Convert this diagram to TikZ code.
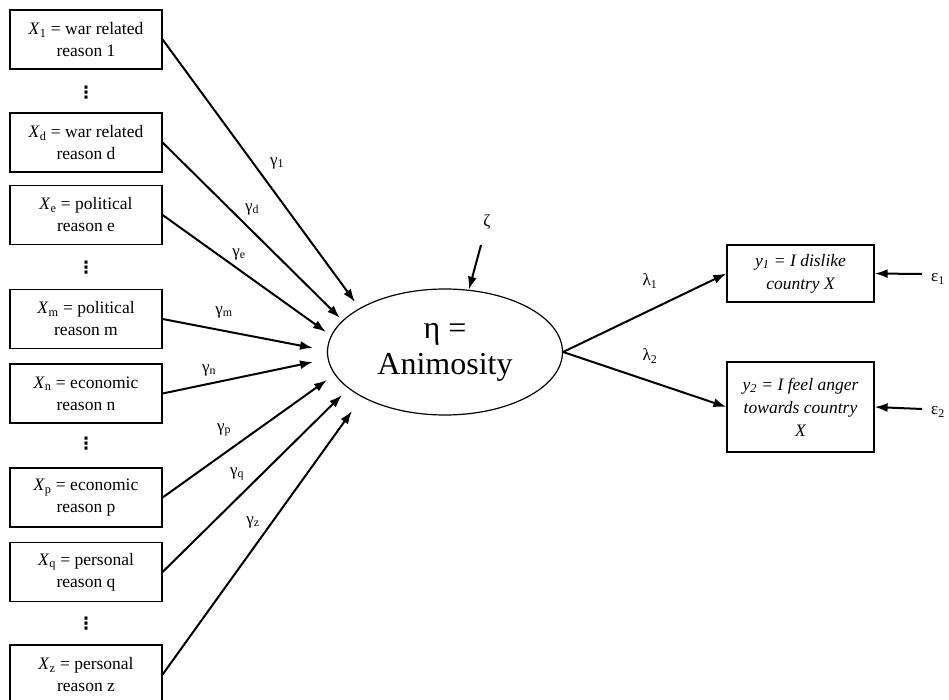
\documentclass[tikz,border=0pt]{standalone}
\usepackage{fontspec}
\setmainfont{Liberation Serif}
\newfontfamily\dotsfont{DejaVu Sans}
\usetikzlibrary{arrows.meta,shapes.geometric}
\begin{document}
\begin{tikzpicture}[x=1pt,y=-1pt,
  varbox/.style={draw, line width=1.2pt, minimum width=152pt, minimum height=59pt,
    inner sep=0pt, align=center, font=\fontsize{17.5}{22}\selectfont},
  ybox/.style={draw, line width=1.2pt, minimum width=147pt, inner sep=0pt,
    align=center, font=\fontsize{17.5}{23}\selectfont\itshape},
  link/.style={line width=2pt, -{Latex[length=13pt,width=9pt]}},
  coef/.style={font=\fontsize{17}{19}\selectfont, inner sep=0pt},
  skipmark/.style={font=\dotsfont\bfseries\fontsize{17}{17}\selectfont, inner sep=0pt}
]
\useasboundingbox (0,0) rectangle (949,700);

% exogenous reasons
\node[varbox] (x1) at (86,39.5)  {\textit{X}\textsubscript{1} = war related\\reason 1};
\node[skipmark] (s1) at (86,93)  {⋮};
\node[varbox] (xd) at (86,142.5) {\textit{X}\textsubscript{d} = war related\\reason d};
\node[varbox] (xe) at (86,215)   {\textit{X}\textsubscript{e} = political\\reason e};
\node[skipmark] (s2) at (86,268) {⋮};
\node[varbox] (xm) at (86,319)   {\textit{X}\textsubscript{m} = political\\reason m};
\node[varbox] (xn) at (86,393.5) {\textit{X}\textsubscript{n} = economic\\reason n};
\node[skipmark] (s3) at (86,444) {⋮};
\node[varbox] (xp) at (86,497.5) {\textit{X}\textsubscript{p} = economic\\reason p};
\node[varbox] (xq) at (86,572)   {\textit{X}\textsubscript{q} = personal\\reason q};
\node[skipmark] (s4) at (86,624) {⋮};
\node[varbox] (xz) at (86,674.5) {\textit{X}\textsubscript{z} = personal\\reason z};

% latent variable
\node[draw, ellipse, line width=1.2pt, minimum width=235pt, minimum height=126pt,
  inner sep=0pt, align=center, font=\fontsize{32}{36}\selectfont] (eta) at (445,352)
  {η =\\Animosity};

% arrow tips around the ellipse
\coordinate (a1) at (355,302);
\coordinate (ad) at (340,318);
\coordinate (ae) at (326,332);
\coordinate (am) at (313,348);
\coordinate (an) at (313,362);
\coordinate (ap) at (327,380);
\coordinate (aq) at (342,395);
\coordinate (az) at (352,411);

\draw[link] (x1.east) -- (a1);
\draw[link] (xd.east) -- (ad);
\draw[link] (xe.east) -- (ae);
\draw[link] (xm.east) -- (am);
\draw[link] (xn.east) -- (an);
\draw[link] (xp.east) -- (ap);
\draw[link] (xq.east) -- (aq);
\draw[link] (xz.east) -- (az);

\node[coef] (g1) at (277,163) {γ\textsubscript{1}};
\node[coef] (gd) at (252,209) {γ\textsubscript{d}};
\node[coef] (ge) at (239,254) {γ\textsubscript{e}};
\node[coef] (gm) at (224,312) {γ\textsubscript{m}};
\node[coef] (gn) at (209,370) {γ\textsubscript{n}};
\node[coef] (gp) at (224,430) {γ\textsubscript{p}};
\node[coef] (gq) at (237,474) {γ\textsubscript{q}};
\node[coef] (gz) at (253,522) {γ\textsubscript{z}};

% disturbance
\node[coef] (zeta) at (487,222) {ζ};
\coordinate (zs) at (481,245);
\draw[link] (zs) -- (eta.69);

% indicators
\node[ybox, minimum height=57pt] (y1) at (800.5,273.5)
  {\textit{y}\textsubscript{1} = I dislike\\country X};
\node[ybox, minimum height=90pt] (y2) at (800.5,407)
  {\textit{y}\textsubscript{2} = I feel anger\\towards country\\X};

\draw[link] (eta.east) -- (y1.west);
\draw[link] (eta.east) -- (y2.west);
\node[coef] (l1) at (650,281) {λ\textsubscript{1}};
\node[coef] (l2) at (650,356) {λ\textsubscript{2}};

% measurement errors
\node[coef] (e1) at (938,279) {ε\textsubscript{1}};
\node[coef] (e2) at (938,412) {ε\textsubscript{2}};
\coordinate (e1s) at (922,274);
\coordinate (e2s) at (922,409);
\draw[link] (e1s) -- (y1.east);
\draw[link] (e2s) -- (y2.east);
\end{tikzpicture}
\end{document}
